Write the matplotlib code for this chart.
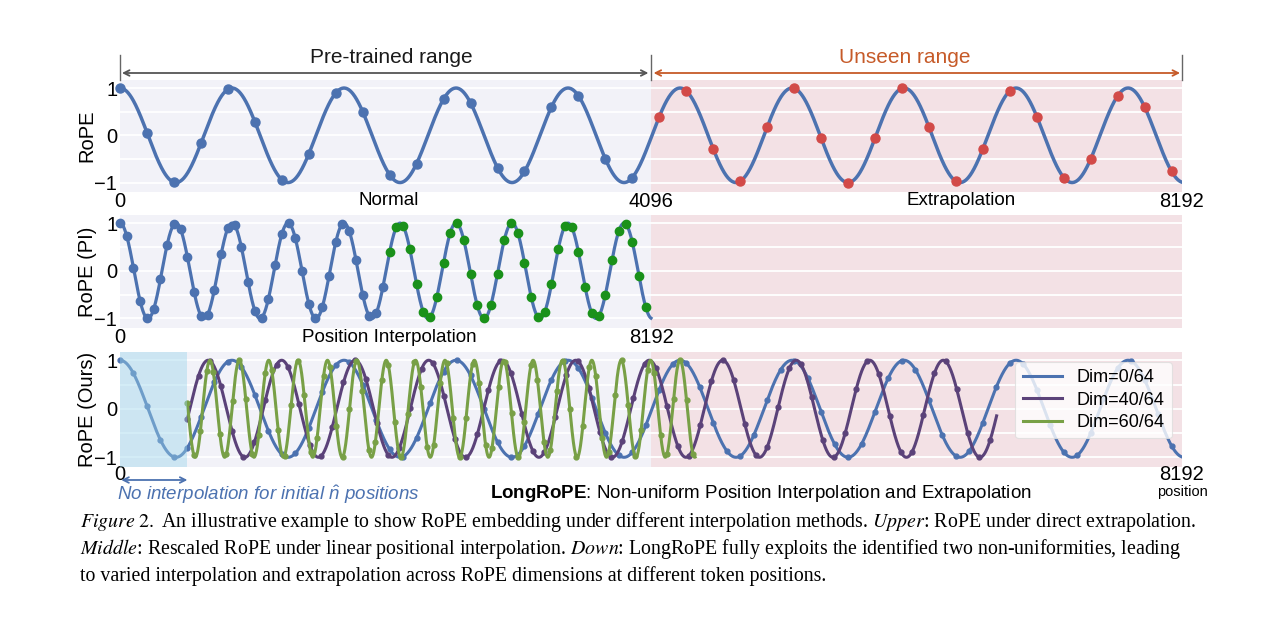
import matplotlib.pyplot as plt
import numpy as np
from matplotlib.transforms import blended_transform_factory

plt.rcParams['font.family'] = ['Liberation Sans', 'DejaVu Sans']
plt.rcParams['mathtext.bf'] = 'Liberation Sans:bold'
plt.rcParams['mathtext.it'] = 'Liberation Sans:italic'
plt.rcParams['mathtext.rm'] = 'Liberation Sans'

# values (token positions)
max_pos = 8192
pretrain_len = 4096
n_hat = 520                  # end of the "no interpolation" zone
period_dim0 = 864            # Dim=0/64 wave length (all panels)
period_dim40 = 567           # Dim=40/64 after LongRoPE rescaling
period_dim60 = 226.6         # Dim=60/64 after LongRoPE rescaling
peak_dim40 = 680
peak_dim60 = 694
end_dim40 = 6762
end_dim60 = 4436
dot_step_top = 208
dot_step_pi = 104
dot_step_dim0 = 104
dot_step_dim40 = 86
dot_step_dim60 = 50

top_ticks = [0, 4096, 8192]
top_ticklabels = ['0', '4096', '8192']
mid_ticks = [0, 4096]
mid_ticklabels = ['0', '8192']
bot_ticks = [0, 8192]
bot_ticklabels = ['0', '8192']
y_ticks = [-1, 0, 1]
grid_levels = [-1, -0.5, 0, 0.5, 1]
legend_labels = ['Dim=0/64', 'Dim=40/64', 'Dim=60/64']

caption_lines = [
    r'$\mathit{Figure\ 2.}$ An illustrative example to show RoPE embedding under different interpolation methods. '
    r'$\mathit{Upper}$: RoPE under direct extrapolation.',
    r'$\mathit{Middle}$: Rescaled RoPE under linear positional interpolation. $\mathit{Down}$: '
    r'LongRoPE fully exploits the identified two non-uniformities, leading',
    'to varied interpolation and extrapolation across RoPE dimensions at different token positions.',
]

BLUE = '#4c72b0'
RED = '#d24a48'
GREEN_DOT = '#1a911a'
PURPLE = '#5b4279'
OLIVE = '#78a046'
LAVENDER = '#f2f2f8'
PINK = '#f3e1e5'
SKY = '#9cd6ec'
ORANGE = '#c65a28'


def rope(pos, period, peak=0.0):
    return np.cos(2 * np.pi * (np.asarray(pos, dtype=float) - peak) / period)


def style_axes(ax, ticks, ticklabels, xpad=0):
    ax.set_facecolor(LAVENDER)
    for s in ax.spines.values():
        s.set_visible(False)
    ax.set_xlim(0, max_pos)
    ax.set_ylim(-1.2, 1.17)
    ax.set_yticks(y_ticks)
    ax.set_yticklabels(['\u22121', '0', '1'])
    ax.set_xticks(ticks)
    ax.set_xticklabels(ticklabels)
    ax.tick_params(length=0, labelsize=14.5, pad=2)
    ax.tick_params(axis='x', pad=xpad)
    for g in grid_levels:
        ax.axhline(g, color='white', lw=1.3, zorder=1)
    ax.axvspan(pretrain_len, max_pos, color=PINK, lw=0, zorder=0)


fig = plt.figure(figsize=(12.8, 6.4), dpi=100)
left, width = 120 / 1280, 1062 / 1280
ax_top = fig.add_axes([left, 1 - 192 / 640, width, 112 / 640])
ax_mid = fig.add_axes([left, 1 - 328 / 640, width, 113 / 640])
ax_bot = fig.add_axes([left, 1 - 467 / 640, width, 115 / 640])

# ---- Upper: direct extrapolation
style_axes(ax_top, top_ticks, top_ticklabels)
x = np.linspace(0, max_pos, 3000)
ax_top.plot(x, rope(x, period_dim0), color=BLUE, lw=2.5, zorder=2)
dots = np.arange(0, max_pos, dot_step_top)
seen = dots < pretrain_len
ax_top.plot(dots[seen], rope(dots[seen], period_dim0), 'o', color=BLUE, ms=6.5, zorder=3, clip_on=False)
ax_top.plot(dots[~seen], rope(dots[~seen], period_dim0), 'o', color=RED, ms=6.5, zorder=3, clip_on=False)
ax_top.set_ylabel('RoPE', fontsize=14.5)
ax_top.yaxis.set_label_coords(-0.022, 0.5)

tr = blended_transform_factory(ax_top.transData, ax_top.transAxes)
ax_top.text(2075, -0.08, 'Normal', transform=tr, ha='center', va='center', fontsize=13.5)
ax_top.text(6488, -0.08, 'Extrapolation', transform=tr, ha='center', va='center', fontsize=13.5)
for xv in [0, pretrain_len, max_pos]:
    ax_top.plot([xv, xv], [1.0, 1.22], color='#666666', lw=1, transform=tr, clip_on=False)
ax_top.annotate('', xy=(pretrain_len - 20, 1.0625), xytext=(15, 1.0625), xycoords=tr, textcoords=tr,
                arrowprops=dict(arrowstyle='<->', color='#555555', lw=1.3, shrinkA=0, shrinkB=0))
ax_top.annotate('', xy=(max_pos - 15, 1.0625), xytext=(pretrain_len + 20, 1.0625), xycoords=tr, textcoords=tr,
                arrowprops=dict(arrowstyle='<->', color=ORANGE, lw=1.3, shrinkA=0, shrinkB=0))
ax_top.text(2091, 1.2, 'Pre-trained range', transform=tr, ha='center', va='center', fontsize=15, color='#1a1a1a')
ax_top.text(6055, 1.2, 'Unseen range', transform=tr, ha='center', va='center', fontsize=15, color=ORANGE)

# ---- Middle: position interpolation (8192 squeezed into 4096)
style_axes(ax_mid, mid_ticks, mid_ticklabels)
x_orig = np.linspace(0, max_pos, 3000)
ax_mid.plot(x_orig / 2, rope(x_orig, period_dim0), color=BLUE, lw=2.3, zorder=2)
dots = np.arange(0, max_pos, dot_step_pi)
seen = dots < pretrain_len
ax_mid.plot(dots[seen] / 2, rope(dots[seen], period_dim0), 'o', color=BLUE, ms=6, zorder=3, clip_on=False)
ax_mid.plot(dots[~seen] / 2, rope(dots[~seen], period_dim0), 'o', color=GREEN_DOT, ms=6, zorder=3)
ax_mid.set_ylabel('RoPE (PI)', fontsize=14.5)
ax_mid.yaxis.set_label_coords(-0.022, 0.5)
tr = blended_transform_factory(ax_mid.transData, ax_mid.transAxes)
ax_mid.text(2075, -0.088, 'Position Interpolation', transform=tr, ha='center', va='center', fontsize=13.5)

# ---- Down: LongRoPE
style_axes(ax_bot, bot_ticks, bot_ticklabels, xpad=-1.5)
x0 = np.linspace(0, max_pos, 3000)
ax_bot.plot(x0, rope(x0, period_dim0), color=BLUE, lw=2.2, zorder=2, label=legend_labels[0])
d0 = np.arange(0, max_pos, dot_step_dim0)
ax_bot.plot(d0, rope(d0, period_dim0), 'o', color=BLUE, ms=3.5, zorder=2, clip_on=False)

x40 = np.linspace(n_hat, end_dim40, 3000)
ax_bot.plot(x40, rope(x40, period_dim40, peak_dim40), color=PURPLE, lw=2.2, zorder=2, label=legend_labels[1])
d40 = np.arange(n_hat, end_dim40, dot_step_dim40)
ax_bot.plot(d40, rope(d40, period_dim40, peak_dim40), 'o', color=PURPLE, ms=3.5, zorder=2)

x60 = np.linspace(n_hat, end_dim60, 3000)
ax_bot.plot(x60, rope(x60, period_dim60, peak_dim60), color=OLIVE, lw=2.2, zorder=2, label=legend_labels[2])
d60 = np.arange(n_hat, end_dim60, dot_step_dim60)
ax_bot.plot(d60, rope(d60, period_dim60, peak_dim60), 'o', color=OLIVE, ms=3.5, zorder=2)

ax_bot.axvspan(0, n_hat, color=SKY, alpha=0.43, lw=0, zorder=4)
leg = ax_bot.legend(loc='upper right', fontsize=13, framealpha=0.8, edgecolor='#dddddd',
                    borderaxespad=0.55, handlelength=2.2, labelspacing=0.3)
leg.get_frame().set_linewidth(0.8)
ax_bot.set_ylabel('RoPE (Ours)', fontsize=14.5)
ax_bot.yaxis.set_label_coords(-0.022, 0.5)

tr = blended_transform_factory(ax_bot.transData, ax_bot.transAxes)
ax_bot.text(max_pos, -0.217, 'position', transform=tr, ha='center', va='center', fontsize=10.5)
ax_bot.annotate('', xy=(n_hat, -0.113), xytext=(10, -0.113), xycoords=tr, textcoords=tr,
                arrowprops=dict(arrowstyle='<->', color=BLUE, lw=1.3, shrinkA=0, shrinkB=0))
ax_bot.text(-23, -0.24, r'No interpolation for initial $\hat{n}$ positions', transform=tr,
            ha='left', va='center', fontsize=13.5, color=BLUE, style='italic', math_fontfamily='custom')
ax_bot.text(4945, -0.232, r'$\mathbf{LongRoPE}$: Non-uniform Position Interpolation and Extrapolation',
            transform=tr, ha='center', va='center', fontsize=13.5, math_fontfamily='custom')

# ---- caption
for i, line in enumerate(caption_lines):
    fig.text(80 / 1280, 1 - (522 + 27 * i) / 640, line, ha='left', va='center', fontsize=14.3,
             family='Liberation Serif', math_fontfamily='stix')

fig.savefig('out.png', dpi=100)
